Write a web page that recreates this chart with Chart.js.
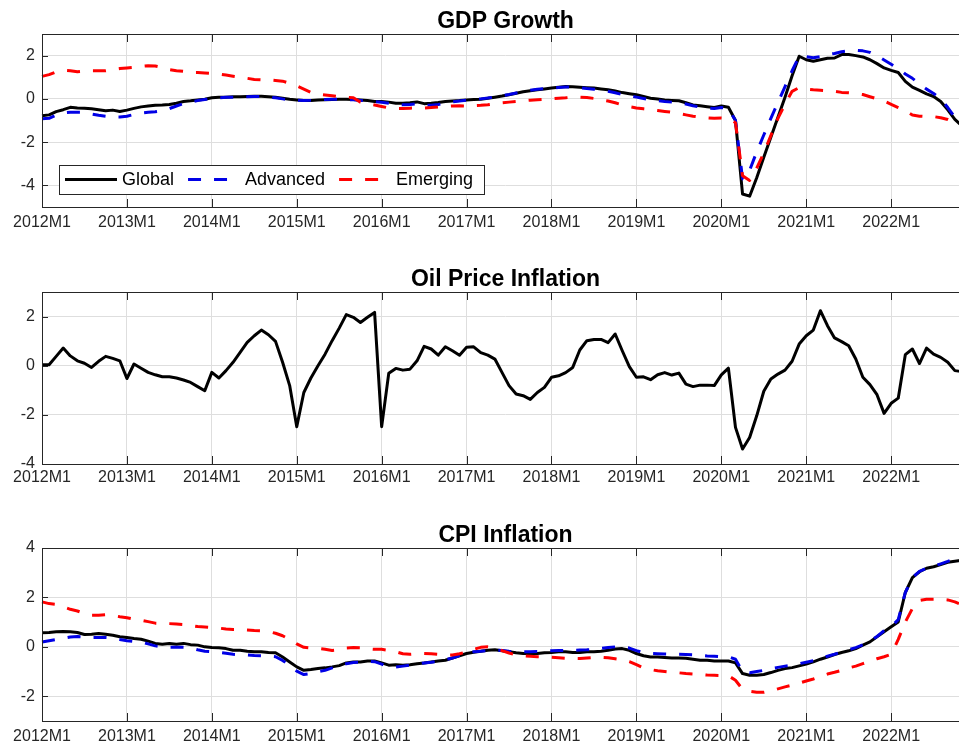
<!DOCTYPE html>
<html><head><meta charset="utf-8">
<script src="https://cdn.jsdelivr.net/npm/chart.js@4.4.0/dist/chart.umd.min.js"></script>
<style>
html,body{margin:0;padding:0;background:#fff;overflow:hidden;width:959px;height:746px;}
.wrap{position:absolute;left:0;}
canvas{display:block;}
</style></head><body>
<div class="wrap" style="top:0px"><canvas id="c1" width="980" height="240"></canvas></div>
<div class="wrap" style="top:258px"><canvas id="c2" width="980" height="240"></canvas></div>
<div class="wrap" style="top:514px"><canvas id="c3" width="980" height="232"></canvas></div>
<script>
// ---------- categories ----------
const months = [];
for (let y = 2012; y <= 2022; y++) for (let m = 1; m <= 12; m++) months.push(y + 'M' + m);

const seriesNames = ['Global', 'Advanced', 'Emerging'];
const titles = ['GDP Growth', 'Oil Price Inflation', 'CPI Inflation'];

// ---------- GDP growth ----------
const gdpGlobal = [
-0.78,-0.74,-0.59,-0.5,-0.39,-0.42,-0.43,-0.46,-0.5,-0.55,-0.52,-0.58,
-0.52,-0.44,-0.37,-0.33,-0.29,-0.28,-0.26,-0.2,-0.12,-0.09,-0.05,-0.02,
0.05,0.08,0.08,0.1,0.1,0.11,0.12,0.12,0.1,0.07,0.03,-0.02,
-0.05,-0.08,-0.07,-0.05,-0.04,-0.03,-0.02,-0.02,-0.03,-0.05,-0.08,-0.12,
-0.12,-0.15,-0.2,-0.2,-0.18,-0.14,-0.22,-0.2,-0.17,-0.12,-0.1,-0.08,
-0.05,-0.03,-0.02,0.03,0.08,0.13,0.19,0.26,0.33,0.38,0.42,0.46,
0.5,0.54,0.57,0.56,0.54,0.52,0.5,0.46,0.42,0.36,0.29,0.24,
0.19,0.11,0.03,-0.01,-0.05,-0.07,-0.09,-0.18,-0.28,-0.32,-0.36,-0.4,
-0.33,-0.39,-1.0,-4.4,-4.5,-3.65,-2.7,-1.77,-0.85,0.08,1.07,1.97,
1.81,1.74,1.81,1.88,1.89,2.05,2.05,2.0,1.94,1.81,1.63,1.43,
1.32,1.22,0.81,0.54,0.39,0.23,0.11,-0.12,-0.51,-0.95,-1.25,-1.5];
const gdpAdvanced = [
-0.92,-0.9,-0.75,-0.65,-0.62,-0.62,-0.62,-0.7,-0.76,-0.8,-0.84,-0.84,
-0.8,-0.72,-0.66,-0.62,-0.6,-0.55,-0.45,-0.33,-0.22,-0.14,-0.08,-0.03,
0.02,0.05,0.07,0.08,0.09,0.1,0.11,0.11,0.09,0.05,0.0,-0.04,
-0.06,-0.07,-0.06,-0.04,-0.03,-0.02,-0.02,-0.03,-0.04,-0.07,-0.1,-0.13,
-0.16,-0.2,-0.25,-0.27,-0.26,-0.22,-0.3,-0.3,-0.26,-0.2,-0.14,-0.1,
-0.06,-0.03,0.0,0.04,0.09,0.14,0.2,0.27,0.34,0.4,0.44,0.47,
0.5,0.53,0.55,0.54,0.52,0.48,0.45,0.4,0.35,0.28,0.2,0.14,
0.08,0.02,-0.04,-0.08,-0.12,-0.15,-0.18,-0.24,-0.32,-0.38,-0.42,-0.45,
-0.4,-0.45,-1.0,-3.7,-3.3,-2.45,-1.67,-0.9,-0.17,0.57,1.3,1.97,
1.95,1.9,1.95,2.05,2.1,2.18,2.22,2.25,2.22,2.15,2.0,1.8,
1.6,1.4,1.15,0.95,0.7,0.45,0.25,0.0,-0.4,-0.85,-1.2,-1.5];
const gdpEmerging = [
1.04,1.12,1.25,1.32,1.3,1.25,1.28,1.3,1.3,1.3,1.35,1.4,
1.43,1.46,1.5,1.53,1.52,1.45,1.35,1.3,1.27,1.22,1.22,1.2,
1.18,1.15,1.1,1.05,1.0,0.95,0.9,0.88,0.88,0.85,0.82,0.72,
0.6,0.45,0.3,0.22,0.18,0.14,0.1,0.08,0.05,-0.15,-0.22,-0.28,
-0.35,-0.42,-0.44,-0.44,-0.43,-0.42,-0.42,-0.4,-0.37,-0.35,-0.33,-0.32,
-0.33,-0.32,-0.3,-0.27,-0.22,-0.18,-0.15,-0.12,-0.09,-0.06,-0.04,-0.02,
0.0,0.03,0.05,0.08,0.08,0.06,0.02,-0.05,-0.1,-0.18,-0.28,-0.36,
-0.42,-0.46,-0.5,-0.54,-0.58,-0.62,-0.68,-0.74,-0.8,-0.84,-0.88,-0.9,
-0.88,-0.9,-1.1,-3.55,-3.77,-3.2,-2.5,-1.7,-0.9,-0.25,0.35,0.52,
0.45,0.42,0.4,0.38,0.35,0.3,0.28,0.25,0.2,0.1,0.0,-0.1,
-0.25,-0.4,-0.55,-0.75,-0.8,-0.82,-0.82,-0.87,-0.95,-1.1,-1.2,-1.35];

// ---------- Oil price inflation ----------
const oilGlobal = [
0.04,0.04,0.38,0.72,0.4,0.2,0.1,-0.07,0.18,0.38,0.3,0.2,
-0.52,0.07,-0.1,-0.27,-0.37,-0.45,-0.45,-0.5,-0.58,-0.68,-0.85,-1.02,
-0.27,-0.5,-0.2,0.14,0.54,0.95,1.22,1.45,1.26,0.99,0.14,-0.81,
-2.48,-1.09,-0.5,0.0,0.47,1.02,1.53,2.08,1.97,1.76,1.97,2.17,
-2.48,-0.31,-0.11,-0.18,-0.14,0.2,0.79,0.68,0.43,0.77,0.61,0.43,
0.75,0.77,0.53,0.43,0.27,-0.27,-0.81,-1.15,-1.22,-1.37,-1.09,-0.88,
-0.47,-0.41,-0.28,-0.07,0.64,1.02,1.07,1.07,0.94,1.29,0.61,-0.04,
-0.47,-0.45,-0.57,-0.37,-0.28,-0.38,-0.3,-0.75,-0.85,-0.79,-0.79,-0.81,
-0.37,-0.1,-2.51,-3.39,-2.92,-2.04,-1.04,-0.54,-0.34,-0.18,0.18,0.88,
1.22,1.45,2.24,1.63,1.13,0.98,0.81,0.27,-0.47,-0.77,-1.18,-1.94,
-1.53,-1.32,0.45,0.68,0.09,0.72,0.47,0.34,0.14,-0.2,-0.24,-0.3];

// ---------- CPI inflation ----------
const cpiGlobal = [
0.57,0.58,0.61,0.62,0.61,0.58,0.5,0.51,0.54,0.51,0.47,0.41,
0.38,0.34,0.31,0.23,0.14,0.11,0.14,0.11,0.14,0.09,0.07,0.0,
-0.03,-0.04,-0.07,-0.14,-0.14,-0.18,-0.2,-0.2,-0.23,-0.24,-0.41,-0.61,
-0.81,-0.95,-0.92,-0.88,-0.85,-0.81,-0.76,-0.65,-0.61,-0.61,-0.57,-0.57,
-0.65,-0.74,-0.72,-0.74,-0.72,-0.68,-0.65,-0.61,-0.57,-0.54,-0.45,-0.36,
-0.27,-0.22,-0.18,-0.14,-0.12,-0.16,-0.2,-0.24,-0.27,-0.27,-0.27,-0.24,
-0.23,-0.2,-0.2,-0.23,-0.23,-0.2,-0.2,-0.18,-0.14,-0.09,-0.07,-0.14,
-0.27,-0.36,-0.41,-0.41,-0.43,-0.45,-0.45,-0.46,-0.5,-0.54,-0.54,-0.57,
-0.57,-0.57,-0.65,-1.08,-1.15,-1.15,-1.12,-1.04,-0.95,-0.88,-0.84,-0.77,
-0.7,-0.61,-0.5,-0.41,-0.31,-0.23,-0.16,-0.07,0.07,0.2,0.41,0.61,
0.81,1.01,2.2,2.8,3.04,3.18,3.24,3.33,3.42,3.46,3.5,3.55];
const cpiAdvanced = [
0.2,0.25,0.3,0.35,0.4,0.42,0.4,0.38,0.38,0.38,0.36,0.3,
0.25,0.22,0.2,0.12,0.04,0.0,-0.02,-0.02,-0.02,-0.05,-0.12,-0.18,
-0.2,-0.22,-0.26,-0.3,-0.32,-0.33,-0.35,-0.36,-0.37,-0.4,-0.55,-0.75,
-0.98,-1.12,-1.08,-1.0,-0.95,-0.85,-0.75,-0.68,-0.63,-0.62,-0.58,-0.6,
-0.7,-0.8,-0.82,-0.78,-0.74,-0.7,-0.65,-0.62,-0.58,-0.52,-0.45,-0.35,
-0.26,-0.2,-0.18,-0.15,-0.13,-0.15,-0.18,-0.2,-0.2,-0.2,-0.19,-0.17,
-0.16,-0.15,-0.14,-0.14,-0.13,-0.12,-0.1,-0.06,-0.03,0.0,0.0,-0.05,
-0.15,-0.24,-0.27,-0.28,-0.29,-0.3,-0.3,-0.31,-0.32,-0.35,-0.37,-0.38,
-0.4,-0.4,-0.5,-1.0,-1.05,-1.0,-0.95,-0.88,-0.83,-0.78,-0.74,-0.68,
-0.62,-0.56,-0.48,-0.38,-0.3,-0.2,-0.12,-0.03,0.08,0.22,0.42,0.65,
0.82,1.1,2.2,2.8,3.05,3.18,3.26,3.36,3.46,3.57,3.63,3.68];
const cpiEmerging = [
1.82,1.75,1.72,1.62,1.52,1.45,1.35,1.28,1.28,1.3,1.27,1.22,
1.18,1.12,1.08,1.02,0.96,0.95,0.94,0.92,0.9,0.86,0.82,0.8,
0.78,0.76,0.72,0.7,0.7,0.68,0.66,0.65,0.62,0.55,0.45,0.3,
0.12,-0.02,-0.05,-0.06,-0.1,-0.15,-0.12,-0.05,-0.03,-0.04,-0.08,-0.1,
-0.1,-0.14,-0.2,-0.28,-0.3,-0.28,-0.27,-0.28,-0.3,-0.33,-0.33,-0.28,
-0.2,-0.1,-0.02,0.0,-0.05,-0.15,-0.25,-0.33,-0.36,-0.38,-0.4,-0.41,
-0.42,-0.44,-0.46,-0.47,-0.47,-0.45,-0.43,-0.42,-0.44,-0.48,-0.52,-0.6,
-0.72,-0.85,-0.92,-0.97,-1.0,-1.03,-1.05,-1.08,-1.1,-1.12,-1.14,-1.15,
-1.16,-1.17,-1.35,-1.72,-1.8,-1.84,-1.84,-1.78,-1.7,-1.62,-1.55,-1.47,
-1.38,-1.3,-1.2,-1.1,-1.03,-0.95,-0.85,-0.78,-0.68,-0.58,-0.48,-0.4,
-0.3,0.3,1.0,1.55,1.88,1.93,1.93,1.93,1.9,1.82,1.7,1.55];

// ---------- styling ----------
const FONT = '"Liberation Sans", Arial, Helvetica, sans-serif';
const AXIS_COLOR = '#262626';
const GRID_COLOR = '#dedede';
const seriesStyles = [
  {borderColor: '#000000', borderDash: [], order: 3},
  {borderColor: '#0000e6', borderDash: [13, 13], order: 2},
  {borderColor: '#ff0000', borderDash: [13, 13], order: 1}
];

const axesBox = {
  id: 'axesBox',
  afterDatasetsDraw(chart) {
    const {ctx, chartArea: a, scales: {x, y}} = chart;
    ctx.save();
    ctx.strokeStyle = AXIS_COLOR; ctx.lineWidth = 1;
    ctx.beginPath();
    x.ticks.forEach(t => {
      const px = Math.round(x.getPixelForValue(t.value)) + 0.5;
      ctx.moveTo(px, a.bottom); ctx.lineTo(px, a.bottom - 8);
      ctx.moveTo(px, a.top); ctx.lineTo(px, a.top + 8);
    });
    y.ticks.forEach(t => {
      const py = Math.round(y.getPixelForValue(t.value)) + 0.5;
      ctx.moveTo(a.left, py); ctx.lineTo(a.left + 6, py);
      ctx.moveTo(a.right, py); ctx.lineTo(a.right - 6, py);
    });
    ctx.stroke();
    ctx.strokeRect(Math.round(a.left) + 0.5, Math.round(a.top) + 0.5,
      Math.round(a.right - a.left), Math.round(a.bottom - a.top));
    ctx.restore();
  },
  afterDraw(chart, args, opts) {
    const {ctx, chartArea: a} = chart;
    ctx.save();
    ctx.fillStyle = '#000';
    ctx.font = 'bold 23px ' + FONT;
    ctx.textAlign = 'center';
    ctx.textBaseline = 'alphabetic';
    ctx.fillText(opts.title || '', (a.left + a.right) / 2, a.top - 6.5);
    ctx.restore();
    if (opts.legend) {
      const ds = chart.data.datasets;
      const bx = a.left + 17, by = a.bottom - 42, bh = 29;
      ctx.save();
      ctx.font = '18px ' + FONT;
      let x = bx + 6;
      const items = ds.map(d => {
        const it = {x, d, w: ctx.measureText(d.label).width};
        x += 52 + 5 + it.w + 14;
        return it;
      });
      const bw = (x - 14 + 11) - bx;
      ctx.fillStyle = '#fff';
      ctx.fillRect(bx, by, bw, bh);
      ctx.strokeStyle = AXIS_COLOR; ctx.lineWidth = 1;
      ctx.strokeRect(Math.round(bx) + 0.5, Math.round(by) + 0.5, Math.round(bw), bh);
      const cy = by + bh / 2;
      items.forEach(it => {
        ctx.beginPath();
        ctx.strokeStyle = it.d.borderColor;
        ctx.lineWidth = 3;
        ctx.setLineDash(it.d.borderDash || []);
        ctx.moveTo(it.x, cy); ctx.lineTo(it.x + 52, cy);
        ctx.stroke();
        ctx.setLineDash([]);
        ctx.fillStyle = '#000';
        ctx.textBaseline = 'middle';
        ctx.textAlign = 'left';
        ctx.fillText(it.d.label, it.x + 57, cy + 1);
      });
      ctx.restore();
    }
  }
};

function makePanel(id, title, seriesList, yMin, yMax, xHeight, xPad, legend) {
  const datasets = seriesList.map((vals, i) => ({
    label: seriesNames[i],
    data: vals,
    borderColor: seriesStyles[i].borderColor,
    borderDash: seriesStyles[i].borderDash,
    order: seriesStyles[i].order,
    borderWidth: 3,
    pointRadius: 0,
    tension: 0,
    fill: false,
    borderJoinStyle: 'round'
  }));
  return new Chart(document.getElementById(id), {
    type: 'line',
    data: {labels: months, datasets},
    options: {
      responsive: false,
      animation: false,
      devicePixelRatio: 1,
      layout: {padding: {top: 34, right: 11, left: 0, bottom: 0}},
      plugins: {
        legend: {display: false},
        tooltip: {enabled: false},
        axesBox: {title, legend}
      },
      scales: {
        x: {
          type: 'category',
          offset: false,
          grid: {color: GRID_COLOR, drawTicks: false, lineWidth: 1},
          border: {display: false},
          ticks: {autoSkip: false, maxRotation: 0, minRotation: 0, padding: xPad,
                  color: AXIS_COLOR, font: {family: FONT, size: 16}},
          afterBuildTicks: s => { s.ticks = s.ticks.filter(t => t.value % 12 === 0); },
          afterFit: s => { s.height = xHeight; }
        },
        y: {
          type: 'linear', min: yMin, max: yMax,
          grid: {color: GRID_COLOR, drawTicks: false, lineWidth: 1},
          border: {display: false},
          ticks: {stepSize: 1, padding: 7, color: AXIS_COLOR, font: {family: FONT, size: 16}},
          afterBuildTicks: s => { s.ticks = s.ticks.filter(t => Math.round(t.value) % 2 === 0); },
          afterFit: s => { s.width = 42; }
        }
      }
    },
    plugins: [axesBox]
  });
}

makePanel('c1', titles[0], [gdpGlobal, gdpAdvanced, gdpEmerging], -5, 3, 33, 6, true);
makePanel('c2', titles[1], [oilGlobal], -4, 3, 34, 4, false);
makePanel('c3', titles[2], [cpiGlobal, cpiAdvanced, cpiEmerging], -3, 4, 25, 6, false);
</script>
</body></html>
